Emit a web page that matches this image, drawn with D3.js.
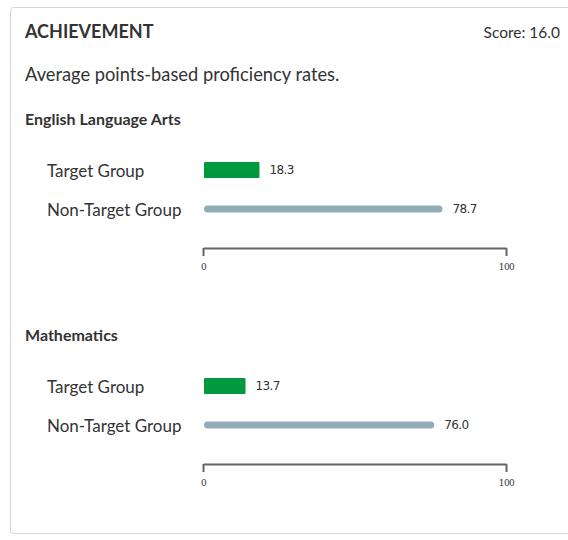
<!DOCTYPE html>
<html>
<head>
<meta charset="utf-8">
<script src="https://cdn.jsdelivr.net/npm/d3@7"></script>
<style>
  html, body { margin: 0; padding: 0; background: #fff; }
  svg { display: block; font-family: Lato, "Open Sans", sans-serif; }
</style>
</head>
<body>
<svg id="chart"></svg>
<script>
const width = 568;
const height = 540;

const subjects = ["English Language Arts", "Mathematics"];
const groups = ["Target Group", "Non-Target Group"];
const targetValues = [18.3, 13.7];
const nonTargetValues = [78.7, 76.0];
const axisTicks = [0, 100];
const score = "16.0";

const svg = d3.select("#chart")
    .attr("width", width)
    .attr("height", height);

// card
svg.append("rect")
    .attr("x", 10.5).attr("y", 7.5)
    .attr("width", 570).attr("height", 526)
    .attr("rx", 3)
    .attr("fill", "#fff")
    .attr("stroke", "#d6d6d6");

svg.append("text")
    .attr("x", 25).attr("y", 38)
    .style("font-size", "18px").style("font-weight", "bold")
    .attr("fill", "#333")
    .text("ACHIEVEMENT");

svg.append("text")
    .attr("x", 560).attr("y", 38)
    .attr("text-anchor", "end")
    .style("font-size", "15.5px")
    .attr("fill", "#333")
    .text("Score: " + score);

svg.append("text")
    .attr("x", 25).attr("y", 81)
    .style("font-size", "18.3px")
    .attr("fill", "#333")
    .text("Average points-based proficiency rates.");

const x = d3.scaleLinear().domain([0, 100]).range([203, 506]);

const colors = d3.scaleOrdinal()
    .domain(groups)
    .range(["#00993d", "#93adb8"]);

subjects.forEach((subject, i) => {
    const top = 108 + i * 216;
    const g = svg.append("g").attr("transform", `translate(0, ${top})`);

    g.append("text")
        .attr("x", 25).attr("y", 17)
        .style("font-size", "16px").style("font-weight", "bold")
        .attr("fill", "#333")
        .text(subject);

    const y = d3.scaleBand()
        .domain(groups)
        .range([42.5, 120.5]);

    const rows = [
        { group: groups[0], value: targetValues[i], h: 16 },
        { group: groups[1], value: nonTargetValues[i], h: 7 }
    ];

    rows.forEach(r => {
        const cy = y(r.group) + y.bandwidth() / 2;

        g.append("text")
            .attr("x", 47).attr("y", cy)
            .attr("dy", "0.4em")
            .style("font-size", "17px")
            .attr("fill", "#333")
            .text(r.group);

        g.append("rect")
            .attr("x", x(0) + 1)
            .attr("y", cy - r.h / 2)
            .attr("width", x(r.value) - x(0))
            .attr("height", r.h)
            .attr("rx", r.h === 7 ? 3.5 : 1)
            .attr("fill", colors(r.group));

        g.append("text")
            .attr("x", x(r.value) + 11).attr("y", cy)
            .attr("dy", "0.35em")
            .style("font-size", "12px")
            .style("font-family", "'DejaVu Sans', sans-serif")
            .style("letter-spacing", "-0.6px")
            .attr("fill", "#333")
            .text(r.value.toFixed(1));
    });

    // axis
    const axis = g.append("g")
        .attr("transform", "translate(0, 140)")
        .call(d3.axisBottom(x).tickValues(axisTicks).tickSize(8).tickSizeOuter(0).tickPadding(8));
    axis.select(".domain")
        .attr("stroke", "#666")
        .attr("stroke-width", 2);
    axis.selectAll(".tick line")
        .attr("stroke", "#666")
        .attr("stroke-width", 2);
    axis.selectAll(".tick text")
        .style("font-size", "9px")
        .style("font-family", "'DejaVu Serif', serif")
        .style("letter-spacing", "-0.5px")
        .attr("fill", "#333");
});
</script>
</body>
</html>
